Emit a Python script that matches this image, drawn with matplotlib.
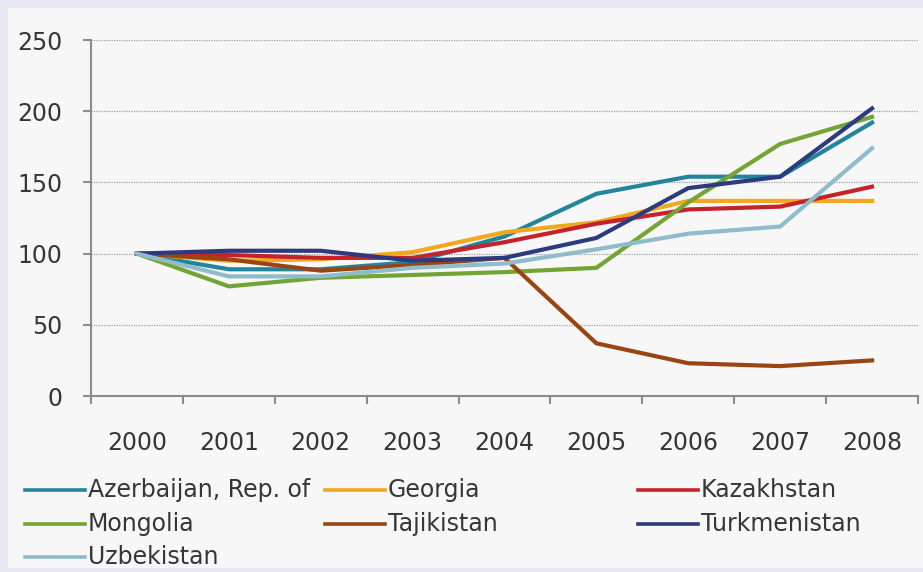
import matplotlib.pyplot as plt
from matplotlib.lines import Line2D
from matplotlib.patches import Rectangle

years = ['2000', '2001', '2002', '2003', '2004', '2005', '2006', '2007', '2008']

azerbaijan = [100, 89, 89, 94, 112, 142, 154, 154, 192]
georgia = [100, 95, 96, 101, 115, 122, 137, 137, 137]
kazakhstan = [100, 99, 97, 97, 108, 121, 131, 133, 147]
mongolia = [100, 77, 83, 85, 87, 90, 136, 177, 196]
tajikistan = [100, 96, 88, 92, 97, 37, 23, 21, 25]
turkmenistan = [100, 102, 102, 95, 97, 111, 146, 154, 202]
uzbekistan = [100, 84, 84, 90, 93, 103, 114, 119, 174]

names = ['Azerbaijan, Rep. of', 'Georgia', 'Kazakhstan', 'Mongolia',
         'Tajikistan', 'Turkmenistan', 'Uzbekistan']
series = [azerbaijan, georgia, kazakhstan, mongolia, tajikistan, turkmenistan, uzbekistan]
colors = ['#23859b', '#f2a81d', '#c3242c', '#72a534', '#9b4413', '#2c3a7f', '#8fbccd']

fig = plt.figure(figsize=(9.23, 5.72), dpi=100)
fig.patch.set_facecolor('#e7e7f3')
fig.add_artist(Rectangle((8 / 923, 4 / 572), 915 / 923, 560 / 572,
                         transform=fig.transFigure, facecolor='#f7f7f7',
                         edgecolor='none', zorder=0))

ax = fig.add_axes([91 / 923, 1 - 396 / 572, 827 / 923, 356 / 572])
ax.set_facecolor('none')

x = list(range(len(years)))
for vals, c in zip(series, colors):
    ax.plot(x, vals, color=c, lw=3.0, solid_joinstyle='round', zorder=3)

ax.set_xlim(-0.5, len(years) - 0.5)
ax.set_ylim(0, 250)
ax.set_yticks(range(0, 251, 50))
ax.yaxis.grid(True, color='#a0a0a0', linestyle=(0, (1, 1)), lw=0.9)
ax.set_axisbelow(True)

for s in ['top', 'right']:
    ax.spines[s].set_visible(False)
for s in ['left', 'bottom']:
    ax.spines[s].set_color('#8c8c8c')
    ax.spines[s].set_linewidth(1.5)

# category axis: ticks between categories, labels centred
ax.set_xticks([i - 0.5 for i in range(len(years) + 1)])
ax.set_xticklabels([])
ax.set_xticks(x, minor=True)
ax.set_xticklabels(years, minor=True)
ax.tick_params(axis='x', which='major', direction='out', length=6, width=1.5, color='#8c8c8c')
ax.tick_params(axis='x', which='minor', length=0, pad=25, labelsize=17, labelcolor='#363636')
ax.tick_params(axis='y', direction='out', length=5.5, width=1.5, color='#8c8c8c',
               pad=15, labelsize=17, labelcolor='#363636')

# legend, drawn by hand to get Excel-like column positions
col_x = [25, 325, 638]
row_y = [490, 524, 557]
for i, (name, c) in enumerate(zip(names, colors)):
    x0 = col_x[i % 3]
    y0 = 1 - row_y[i // 3] / 572
    fig.add_artist(Line2D([x0 / 923, (x0 + 60) / 923], [y0, y0],
                          transform=fig.transFigure, color=c, lw=2.6))
    fig.text((x0 + 63) / 923, y0, name, fontsize=17, color='#363636',
             va='center', ha='left')

fig.savefig('out.png', dpi=100, facecolor=fig.get_facecolor())
